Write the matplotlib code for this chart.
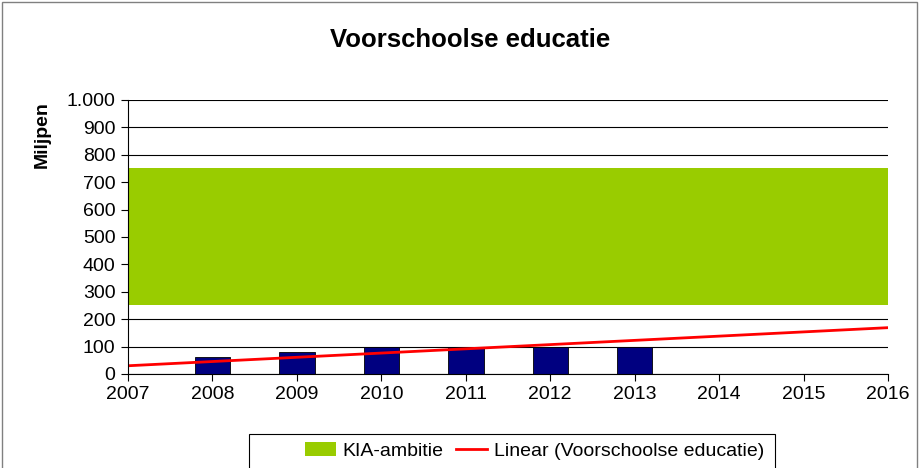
import matplotlib.pyplot as plt
from matplotlib.patches import Rectangle
from matplotlib.ticker import FuncFormatter

plt.rcParams["font.family"] = ["Liberation Sans", "DejaVu Sans"]

years = [2008, 2009, 2010, 2011, 2012, 2013]
spending = [61, 79, 100, 100, 100, 100]

band_years = [2007, 2016]
band_low = [250, 250]
band_high = [750, 750]

trend_years = [2007, 2016]
trend_values = [30, 169]

fig = plt.figure(figsize=(9.23, 4.68), dpi=100)
ax = fig.add_axes([0.1387, 0.2009, 0.8234, 0.5855])

ax.fill_between(band_years, band_low, band_high, color="#99CC00", lw=0, zorder=2,
                label="KIA-ambitie")
ax.bar(years, spending, width=0.42, color="#000080", edgecolor="black", lw=0.6, zorder=3)
ax.plot(trend_years, trend_values, color="#FF0000", lw=2, zorder=4,
        label="Linear (Voorschoolse educatie)")

ax.set_xlim(2007, 2016)
ax.set_ylim(0, 1000)
ax.set_xticks(range(2007, 2017))
ax.set_yticks(range(0, 1001, 100))
ax.yaxis.set_major_formatter(FuncFormatter(lambda v, p: f"{int(v):,}".replace(",", ".")))
ax.set_axisbelow(True)
ax.grid(axis="y", color="black", lw=0.8)
for s in ["top", "right"]:
    ax.spines[s].set_visible(False)
for s in ["left", "bottom"]:
    ax.spines[s].set_color("black")
    ax.spines[s].set_linewidth(0.8)
    ax.spines[s].set_zorder(5)
ax.tick_params(direction="out", length=5, width=0.8, labelsize=14, pad=4)

fig.text(0.509, 0.915, "Voorschoolse educatie", ha="center", va="center",
         fontsize=18.5, fontweight="bold")
fig.text(0.046, 0.712, "Miljpen", rotation=90, ha="center", va="center",
         fontsize=14, fontweight="bold")

# legend with its own frame
fig.patches.append(Rectangle((249 / 923, -0.01), (775 - 249) / 923, (468 - 434) / 468 + 0.01,
                             transform=fig.transFigure, fill=False, ec="black", lw=0.8))
ax.legend(loc="center left", bbox_to_anchor=(287 / 923, 0.036), bbox_transform=fig.transFigure,
          frameon=False, ncol=2, fontsize=14, handlelength=1.6, handletextpad=0.36,
          columnspacing=0.62)

# outer chart border
fig.patches.append(Rectangle((2 / 923, -0.01), 915 / 923, 1 - 2 / 468 + 0.01,
                             transform=fig.transFigure, fill=False, ec="#808080", lw=1))

fig.savefig("out.png", dpi=100)
